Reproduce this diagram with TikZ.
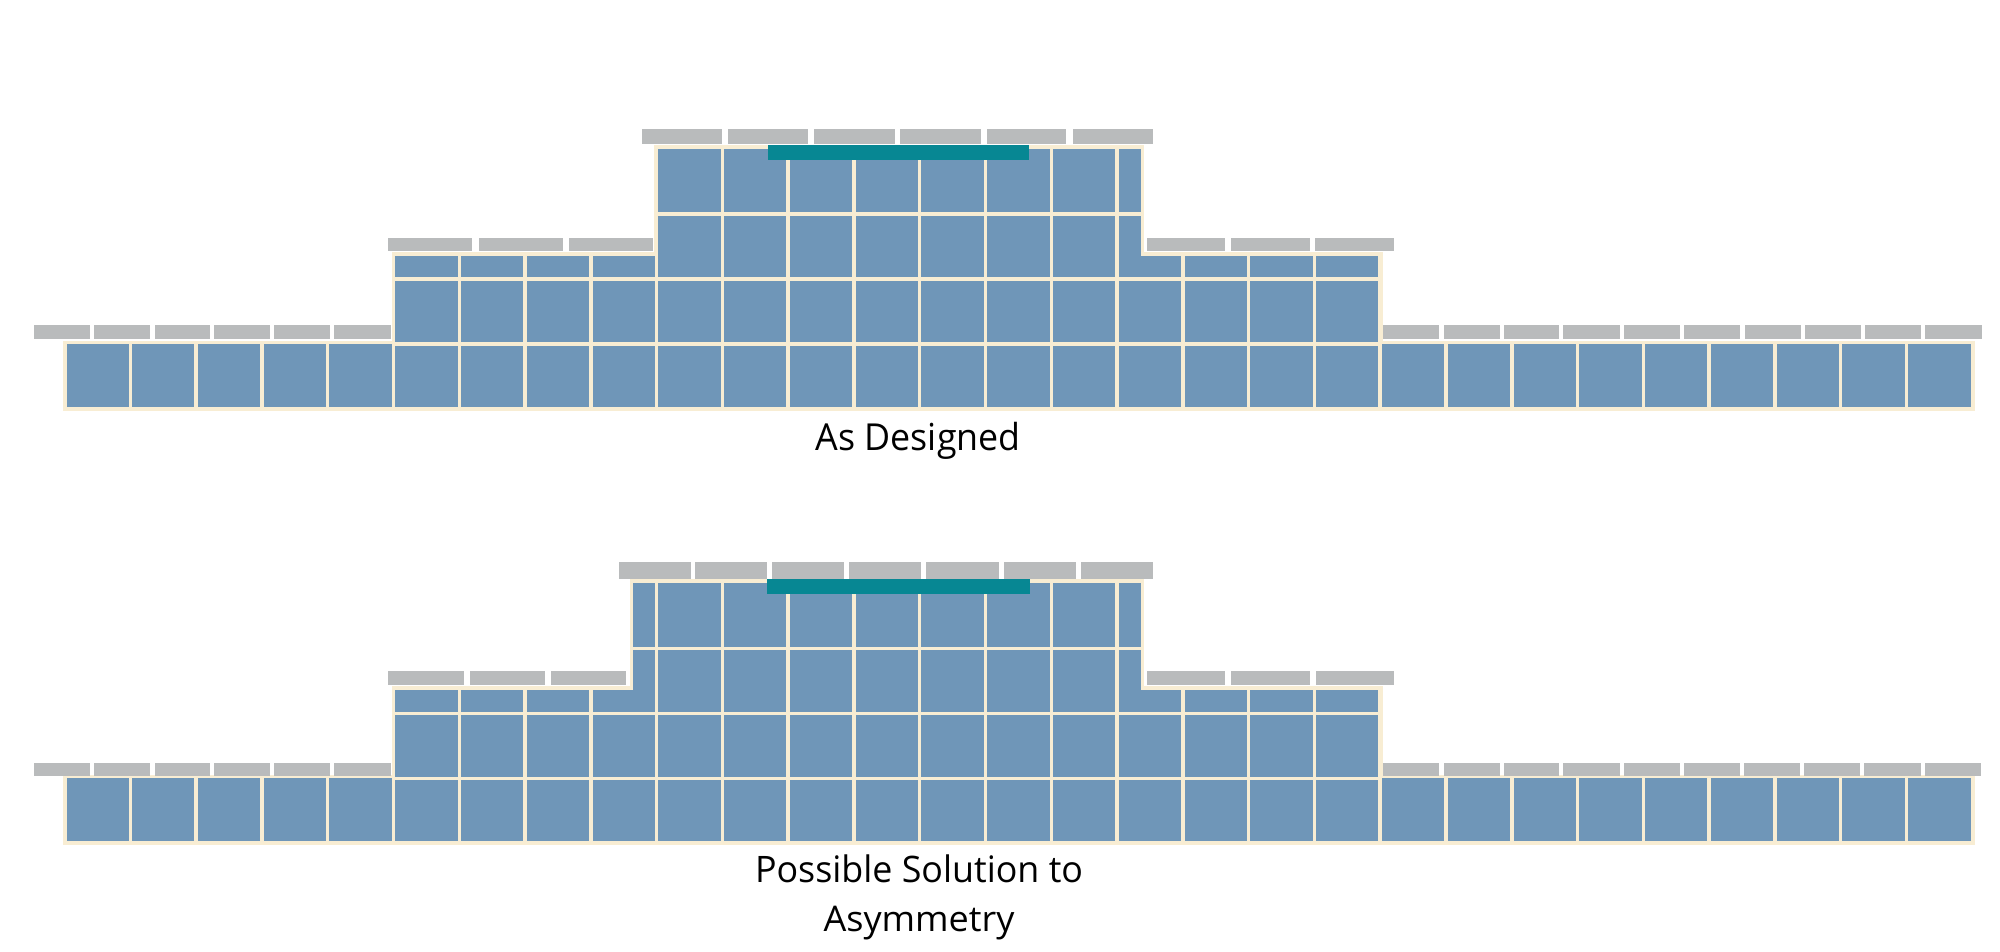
\documentclass[tikz,border=0pt]{standalone}
\usepackage{fontspec}
\setmainfont{Open Sans}
\definecolor{cellblue}{HTML}{6F96B8}
\definecolor{joint}{HTML}{F8EDD3}
\definecolor{coping}{HTML}{B9BBBC}
\definecolor{capbar}{HTML}{078793}
\tikzset{
  wall/.style={fill=cellblue,draw=joint,line width=2.6pt,miter limit=10},
  jointline/.style={draw=joint,line width=2.6pt},
  copingbar/.style={fill=coping,draw=none},
  tealbar/.style={fill=capbar,draw=none},
  captiontext/.style={text=black,inner sep=0pt,anchor=base}
}
\newcommand{\vx}[1]{\fpeval{64.6+65.78*(#1)}}
\begin{document}
\begin{tikzpicture}[x=0.75pt,y=-0.75pt]
\useasboundingbox (0,0) rectangle (2000,951);
% ---- As Designed ----
\draw[wall] (65,409) -- (65,342.5) -- (393.5,342.5) -- (393.5,254) -- (656,254) -- (656,147) -- (1142.3,147) -- (1142.3,254) -- (1381,254) -- (1381,342.5) -- (1973,342.5) -- (1973,409) -- cycle;
\foreach \i in {1,...,4,21,22,...,28} \draw[jointline] ({\vx{\i}},342.5) -- ({\vx{\i}},409);
\foreach \i in {5,6,7,8,17,18,19,20} \draw[jointline] ({\vx{\i}},254) -- ({\vx{\i}},409);
\foreach \i in {9,...,16} \draw[jointline] ({\vx{\i}},147) -- ({\vx{\i}},409);
\draw[jointline] (393.5,344) -- (1381,344);
\draw[jointline] (393.5,279) -- (1381,279);
\draw[jointline] (656,214) -- (1142.3,214);
\foreach \a/\b in {33.5/89.7,94.2/150,154.5/210.3,213.8/270,274/330.4,334.4/390.6,1383/1439.3,1443.8/1499.6,1503.6/1559.4,1563.4/1619.6,1623.7/1679.9,1683.9/1740.2,1745/1801.3,1804.9/1861.2,1865.2/1921.4,1925.4/1981.7}
  \fill[copingbar] (\a,325.4) rectangle (\b,339.3);
\foreach \a/\b in {388/472.3,478.6/562.5,568.8/653,1146.8/1225.4,1230.7/1309.7,1315.2/1394.2}
  \fill[copingbar] (\a,238) rectangle (\b,250.6);
\foreach \a/\b in {641.9/722.2,728/808.4,814.2/894.6,900.4/981.2,986.5/1066.4,1072.7/1153}
  \fill[copingbar] (\a,129) rectangle (\b,144.2);
\fill[tealbar] (767.8,145) rectangle (1029.4,159.7);
\node[captiontext] (capA) at (918.2,450) {\resizebox{153.7pt}{21.2pt}{As Designed}};
% ---- Possible Solution ----
\draw[wall] (65,843) -- (65,776.5) -- (393.5,776.5) -- (393.5,688) -- (631.3,688) -- (631.3,581) -- (1142.3,581) -- (1142.3,688) -- (1381,688) -- (1381,776.5) -- (1973,776.5) -- (1973,843) -- cycle;
\foreach \i in {1,...,4,21,22,...,28} \draw[jointline] ({\vx{\i}},776.5) -- ({\vx{\i}},843);
\foreach \i in {5,6,7,8,17,18,19,20} \draw[jointline] ({\vx{\i}},688) -- ({\vx{\i}},843);
\foreach \i in {9,...,16} \draw[jointline] ({\vx{\i}},581) -- ({\vx{\i}},843);
\draw[jointline] (393.5,778.5) -- (1381,778.5);
\draw[jointline] (393.5,713.3) -- (1381,713.3);
\draw[jointline] (631.3,648.3) -- (1142.3,648.3);
\foreach \a/\b in {33.5/89.7,94.2/150,154.5/210.3,213.8/270,274/330.4,334.4/390.6,1383/1439.3,1443.8/1499.6,1503.6/1559.4,1563.4/1619.6,1623.7/1679.9,1683.9/1740.2,1744/1800.4,1804/1860,1864.3/1920.5,1924.6/1981.3}
  \fill[copingbar] (\a,763) rectangle (\b,776.3);
\foreach \a/\b in {388/463.8,469.6/545,550.9/626.3,1146.9/1225.4,1230.8/1309.7,1315.6/1394.2}
  \fill[copingbar] (\a,671.2) rectangle (\b,684.6);
\foreach \a/\b in {618.8/690.6,695/767,771.9/844.2,849/921,925.9/998.7,1004/1075.9,1080.8/1153.1}
  \fill[copingbar] (\a,562.4) rectangle (\b,578.5);
\fill[tealbar] (767.4,579) rectangle (1029.5,593.7);
\node[captiontext] (capB) at (919,882.7) {\resizebox{246pt}{20.8pt}{Possible Solution to}};
\node[captiontext] (capC) at (919,931) {\resizebox{143.2pt}{19pt}{Asymmetry}};
\end{tikzpicture}
\end{document}
